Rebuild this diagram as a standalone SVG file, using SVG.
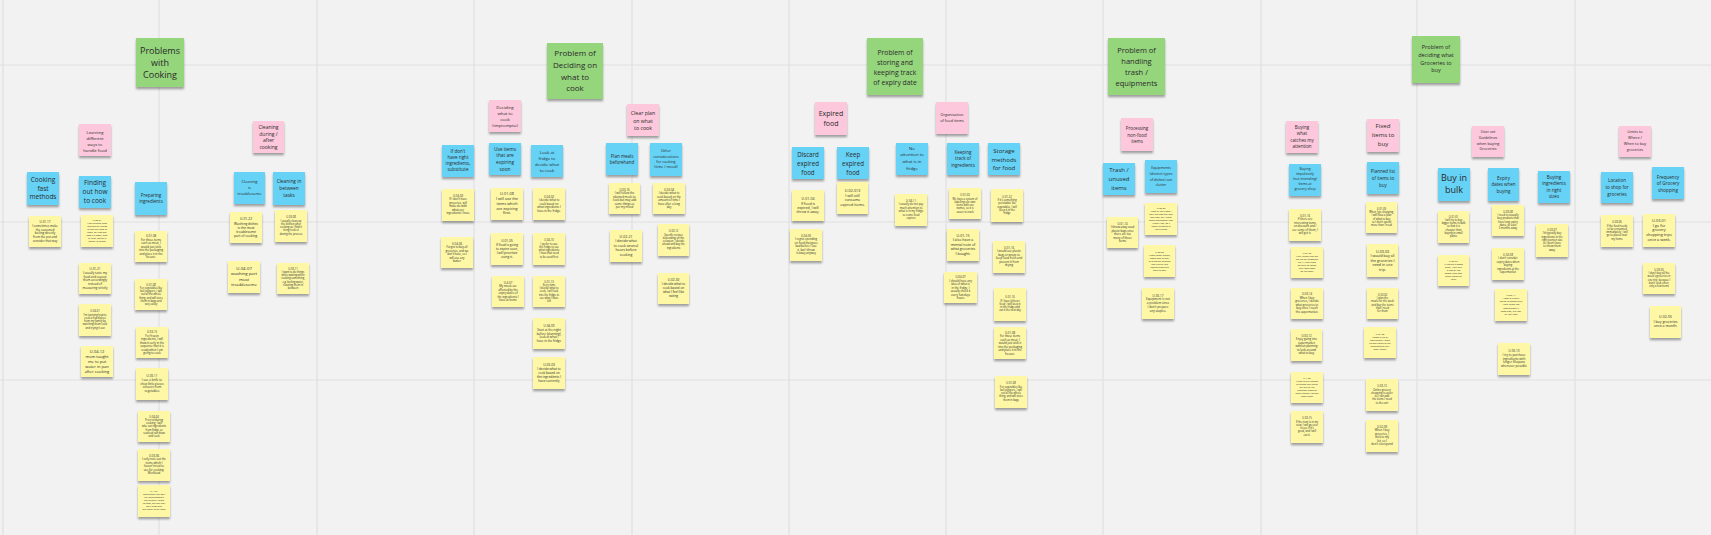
<svg xmlns="http://www.w3.org/2000/svg" width="1711" height="535" viewBox="0 0 1711 535">
<defs>
<filter id="sh" x="-20%" y="-20%" width="140%" height="150%"><feDropShadow dx="0" dy="2.2" stdDeviation="1.3" flood-color="#000" flood-opacity="0.35"/></filter>
</defs>
<style>
.n{filter:url(#sh)}
.y{fill:#fdf7a6}.b{fill:#66d2f6}.p{fill:#fdc8db}.g{fill:#95d57b}
.t{font-family:"Open Sans","Liberation Sans",sans-serif;fill:#2a2a2a;text-anchor:middle}
.gl{stroke:#e0e0e0;stroke-width:1.2}
</style>
<rect width="1711" height="535" fill="#f2f2f2"/>
<g id="grid">
<line class="gl" x1="3" y1="0" x2="3" y2="535"/><line class="gl" x1="159" y1="0" x2="159" y2="535"/><line class="gl" x1="317" y1="0" x2="317" y2="535"/><line class="gl" x1="474" y1="0" x2="474" y2="535"/><line class="gl" x1="632" y1="0" x2="632" y2="535"/><line class="gl" x1="789" y1="0" x2="789" y2="535"/><line class="gl" x1="946" y1="0" x2="946" y2="535"/><line class="gl" x1="1103" y1="0" x2="1103" y2="535"/><line class="gl" x1="1261" y1="0" x2="1261" y2="535"/><line class="gl" x1="1417" y1="0" x2="1417" y2="535"/><line class="gl" x1="1575" y1="0" x2="1575" y2="535"/>
<line class="gl" x1="0" y1="65" x2="1711" y2="65"/><line class="gl" x1="0" y1="222" x2="1711" y2="222"/><line class="gl" x1="0" y1="380" x2="1711" y2="380"/>
</g>

<!-- Headings -->
<g id="g1"><rect class="n g" x="136" y="38" width="48" height="49"/><text class="t" font-size="9" x="160" y="53.5"><tspan x="160">Problems</tspan><tspan x="160" dy="12">with</tspan><tspan x="160" dy="12">Cooking</tspan></text></g>
<g id="g2"><rect class="n g" x="547" y="43" width="56" height="56"/><text class="t" font-size="8" x="575" y="56"><tspan x="575">Problem of</tspan><tspan x="575" dy="11.8">Deciding on</tspan><tspan x="575" dy="11.8">what to</tspan><tspan x="575" dy="11.8">cook</tspan></text></g>
<g id="g3"><rect class="n g" x="867" y="38" width="56" height="57"/><text class="t" font-size="6.8" x="895" y="54.5"><tspan x="895">Problem of</tspan><tspan x="895" dy="10">storing and</tspan><tspan x="895" dy="10">keeping track</tspan><tspan x="895" dy="10">of expiry date</tspan></text></g>
<g id="g4"><rect class="n g" x="1108" y="38" width="57" height="57"/><text class="t" font-size="7.5" x="1136.5" y="52.7"><tspan x="1136.5">Problem of</tspan><tspan x="1136.5" dy="11">handling</tspan><tspan x="1136.5" dy="11">trash /</tspan><tspan x="1136.5" dy="11">equipments</tspan></text></g>
<g id="g5"><rect class="n g" x="1412" y="36" width="48" height="47"/><text class="t" font-size="5.5" x="1436" y="49"><tspan x="1436">Problem of</tspan><tspan x="1436" dy="7.8">deciding what</tspan><tspan x="1436" dy="7.8">Groceries to</tspan><tspan x="1436" dy="7.8">buy</tspan></text></g>

<!-- Pink -->
<g id="p1"><rect class="n p" x="79" y="124" width="32" height="32"/><text class="t" font-size="4.2" x="95" y="133.5"><tspan x="95">Learning</tspan><tspan x="95" dy="6">different</tspan><tspan x="95" dy="6">ways to</tspan><tspan x="95" dy="6">handle food</tspan></text></g>
<g id="p2"><rect class="n p" x="253" y="121" width="31" height="32"/><text class="t" font-size="5" x="268.5" y="128.8"><tspan x="268.5">Cleaning</tspan><tspan x="268.5" dy="6.7">during /</tspan><tspan x="268.5" dy="6.7">after</tspan><tspan x="268.5" dy="6.7">cooking</tspan></text></g>
<g id="p3"><rect class="n p" x="489" y="100" width="32" height="32"/><text class="t" font-size="4.3" x="505" y="108.5"><tspan x="505">Deciding</tspan><tspan x="505" dy="6.3">what to</tspan><tspan x="505" dy="6.3">cook</tspan><tspan x="505" dy="6.3">(impromptu)</tspan></text></g>
<g id="p4"><rect class="n p" x="627" y="104" width="32" height="32"/><text class="t" font-size="5.2" x="643" y="115"><tspan x="643">Clear plan</tspan><tspan x="643" dy="7.5">on what</tspan><tspan x="643" dy="7.5">to cook</tspan></text></g>
<g id="p5"><rect class="n p" x="815" y="102" width="32" height="33"/><text class="t" font-size="7" x="831" y="115.5"><tspan x="831">Expired</tspan><tspan x="831" dy="10">food</tspan></text></g>
<g id="p6"><rect class="n p" x="936" y="102" width="32" height="32"/><text class="t" font-size="3.8" x="952" y="116.3"><tspan x="952">Organisation</tspan><tspan x="952" dy="5.5">of food items</tspan></text></g>
<g id="p7"><rect class="n p" x="1121" y="118" width="32" height="33"/><text class="t" font-size="4.5" x="1137" y="129.7"><tspan x="1137">Processing</tspan><tspan x="1137" dy="6.8">non-food</tspan><tspan x="1137" dy="6.8">items</tspan></text></g>
<g id="p8"><rect class="n p" x="1286" y="121" width="32" height="32"/><text class="t" font-size="4.5" x="1302" y="128.5"><tspan x="1302">Buying</tspan><tspan x="1302" dy="6.5">what</tspan><tspan x="1302" dy="6.5">catches my</tspan><tspan x="1302" dy="6.5">attention</tspan></text></g>
<g id="p9"><rect class="n p" x="1367" y="119" width="32" height="33"/><text class="t" font-size="6" x="1383" y="128"><tspan x="1383">Fixed</tspan><tspan x="1383" dy="9">items to</tspan><tspan x="1383" dy="9">buy</tspan></text></g>
<g id="p10"><rect class="n p" x="1472" y="126" width="32" height="31"/><text class="t" font-size="3.8" x="1488" y="133.3"><tspan x="1488">User set</tspan><tspan x="1488" dy="5.7">Guidelines</tspan><tspan x="1488" dy="5.7">when buying</tspan><tspan x="1488" dy="5.7">Groceries</tspan></text></g>
<g id="p11"><rect class="n p" x="1619" y="126" width="32" height="31"/><text class="t" font-size="3.8" x="1635" y="133.3"><tspan x="1635">Limits to</tspan><tspan x="1635" dy="6">Where /</tspan><tspan x="1635" dy="6">When to buy</tspan><tspan x="1635" dy="6">groceries</tspan></text></g>

<!-- Blue -->
<g id="b1"><rect class="n b" x="27" y="172" width="32" height="33"/><text class="t" font-size="6.5" x="43" y="182.3"><tspan x="43">Cooking</tspan><tspan x="43" dy="8.5">fast</tspan><tspan x="43" dy="8.5">methods</tspan></text></g>
<g id="b2"><rect class="n b" x="79" y="176" width="32" height="32"/><text class="t" font-size="6.5" x="95" y="185.3"><tspan x="95">Finding</tspan><tspan x="95" dy="9">out how</tspan><tspan x="95" dy="9">to cook</tspan></text></g>
<g id="b3"><rect class="n b" x="135" y="182" width="32" height="33"/><text class="t" font-size="4.5" x="151" y="196.6"><tspan x="151">Preparing</tspan><tspan x="151" dy="6.5">ingredients</tspan></text></g>
<g id="b4"><rect class="n b" x="234" y="172" width="31" height="32"/><text class="t" font-size="4" x="249.5" y="183.4"><tspan x="249.5">Cleaning</tspan><tspan x="249.5" dy="6">is</tspan><tspan x="249.5" dy="6">troublesome</tspan></text></g>
<g id="b5"><rect class="n b" x="273" y="172" width="32" height="33"/><text class="t" font-size="4.8" x="289" y="182.8"><tspan x="289">Cleaning in</tspan><tspan x="289" dy="7">between</tspan><tspan x="289" dy="7">tasks</tspan></text></g>
<g id="b6"><rect class="n b" x="442" y="145" width="32" height="32"/><text class="t" font-size="4.5" x="458" y="152.5"><tspan x="458">If don't</tspan><tspan x="458" dy="6.3">have right</tspan><tspan x="458" dy="6.3">ingredients,</tspan><tspan x="458" dy="6.3">substitute</tspan></text></g>
<g id="b7"><rect class="n b" x="489" y="143" width="32" height="32"/><text class="t" font-size="4.8" x="505" y="150.7"><tspan x="505">Use items</tspan><tspan x="505" dy="6.7">that are</tspan><tspan x="505" dy="6.7">expiring</tspan><tspan x="505" dy="6.7">soon</tspan></text></g>
<g id="b8"><rect class="n b" x="531" y="145" width="32" height="32"/><text class="t" font-size="4.3" x="547" y="153.5"><tspan x="547">Look at</tspan><tspan x="547" dy="6.2">fridge to</tspan><tspan x="547" dy="6.2">decide what</tspan><tspan x="547" dy="6.2">to cook</tspan></text></g>
<g id="b9"><rect class="n b" x="606" y="143" width="32" height="32"/><text class="t" font-size="4.5" x="622" y="157.8"><tspan x="622">Plan meals</tspan><tspan x="622" dy="6.5">beforehand</tspan></text></g>
<g id="b10"><rect class="n b" x="650" y="143" width="32" height="33"/><text class="t" font-size="3.7" x="666" y="152.3"><tspan x="666">Other</tspan><tspan x="666" dy="5.3">considerations</tspan><tspan x="666" dy="5.3">for cooking</tspan><tspan x="666" dy="5.3">(time / mood)</tspan></text></g>
<g id="b11"><rect class="n b" x="792" y="147" width="32" height="32"/><text class="t" font-size="6.2" x="808" y="157.2"><tspan x="808">Discard</tspan><tspan x="808" dy="8.7">expired</tspan><tspan x="808" dy="8.7">food</tspan></text></g>
<g id="b12"><rect class="n b" x="837" y="147" width="32" height="32"/><text class="t" font-size="6.2" x="853" y="157.2"><tspan x="853">Keep</tspan><tspan x="853" dy="8.7">expired</tspan><tspan x="853" dy="8.7">food</tspan></text></g>
<g id="b13"><rect class="n b" x="896" y="143" width="32" height="32"/><text class="t" font-size="4.3" x="912" y="149.5"><tspan x="912">No</tspan><tspan x="912" dy="6.8">attention to</tspan><tspan x="912" dy="6.8">what is in</tspan><tspan x="912" dy="6.8">fridge</tspan></text></g>
<g id="b14"><rect class="n b" x="947" y="143" width="32" height="32"/><text class="t" font-size="4.5" x="963" y="153.5"><tspan x="963">Keeping</tspan><tspan x="963" dy="6.7">track of</tspan><tspan x="963" dy="6.7">ingredients</tspan></text></g>
<g id="b15"><rect class="n b" x="988" y="143" width="32" height="32"/><text class="t" font-size="6" x="1004" y="153.2"><tspan x="1004">Storage</tspan><tspan x="1004" dy="8.3">methods</tspan><tspan x="1004" dy="8.3">for food</tspan></text></g>
<g id="b16"><rect class="n b" x="1103" y="163" width="32" height="32"/><text class="t" font-size="6" x="1119" y="172.2"><tspan x="1119">Trash /</tspan><tspan x="1119" dy="8.8">unused</tspan><tspan x="1119" dy="8.8">items</tspan></text></g>
<g id="b17"><rect class="n b" x="1145" y="160" width="32" height="33"/><text class="t" font-size="3.5" x="1161" y="169.3"><tspan x="1161">Equipments</tspan><tspan x="1161" dy="5.7">(distinct types</tspan><tspan x="1161" dy="5.7">of dishes) can</tspan><tspan x="1161" dy="5.7">clutter</tspan></text></g>
<g id="b18"><rect class="n b" x="1289" y="164" width="32" height="32"/><text class="t" font-size="3.5" x="1305" y="170.2"><tspan x="1305">Buying</tspan><tspan x="1305" dy="5">impulsively</tspan><tspan x="1305" dy="5">(not intending)</tspan><tspan x="1305" dy="5">items at</tspan><tspan x="1305" dy="5">grocery shop</tspan></text></g>
<g id="b19"><rect class="n b" x="1367" y="162" width="32" height="32"/><text class="t" font-size="4.5" x="1383" y="172.6"><tspan x="1383">Planned list</tspan><tspan x="1383" dy="7">of items to</tspan><tspan x="1383" dy="7">buy</tspan></text></g>
<g id="b20"><rect class="n b" x="1438" y="168" width="32" height="33"/><text class="t" font-size="9" x="1454" y="181.3"><tspan x="1454">Buy in</tspan><tspan x="1454" dy="12">bulk</tspan></text></g>
<g id="b21"><rect class="n b" x="1488" y="168" width="31" height="33"/><text class="t" font-size="4.5" x="1503.5" y="179.6"><tspan x="1503.5">Expiry</tspan><tspan x="1503.5" dy="6.7">dates when</tspan><tspan x="1503.5" dy="6.7">buying</tspan></text></g>
<g id="b22"><rect class="n b" x="1538" y="171" width="32" height="32"/><text class="t" font-size="4.5" x="1554" y="178.6"><tspan x="1554">Buying</tspan><tspan x="1554" dy="6.5">ingredients</tspan><tspan x="1554" dy="6.5">in right</tspan><tspan x="1554" dy="6.5">sizes</tspan></text></g>
<g id="b23"><rect class="n b" x="1601" y="172" width="32" height="31"/><text class="t" font-size="4.5" x="1617" y="181.6"><tspan x="1617">Location</tspan><tspan x="1617" dy="7">to shop for</tspan><tspan x="1617" dy="7">groceries</tspan></text></g>
<g id="b24"><rect class="n b" x="1652" y="167" width="32" height="32"/><text class="t" font-size="4.6" x="1668" y="178.6"><tspan x="1668">Frequency</tspan><tspan x="1668" dy="6.7">of Grocery</tspan><tspan x="1668" dy="6.7">shopping</tspan></text></g>

<!-- Yellow: Problems with Cooking -->
<g id="y1"><rect class="n y" x="29" y="216" width="32" height="31"/><text class="t" font-size="3" x="45" y="223.2"><tspan x="45">U-01-17</tspan><tspan x="45" dy="1.25em">I sometimes make</tspan><tspan x="45" dy="1.25em">the seasoned</tspan><tspan x="45" dy="1.25em">boiling directly</tspan><tspan x="45" dy="1.25em">from the pot and</tspan><tspan x="45" dy="1.25em">consider that way</tspan></text></g>
<g id="y2"><rect class="n y" x="81" y="215" width="32" height="32"/><text class="t" font-size="2.4" x="97" y="220.8"><tspan x="97">U-03-01</tspan><tspan x="97" dy="1.25em">I use recipes from</tspan><tspan x="97" dy="1.25em">YouTube or TikTok</tspan><tspan x="97" dy="1.25em">to find out how to</tspan><tspan x="97" dy="1.25em">cook, as I can see</tspan><tspan x="97" dy="1.25em">how it's done, step</tspan><tspan x="97" dy="1.25em">by step, which is</tspan><tspan x="97" dy="1.25em">easier to follow</tspan></text></g>
<g id="y3"><rect class="n y" x="79" y="263" width="32" height="31"/><text class="t" font-size="3" x="95" y="270.2"><tspan x="95">U-01-21</tspan><tspan x="95" dy="1.25em">I usually taste my</tspan><tspan x="95" dy="1.25em">food and season</tspan><tspan x="95" dy="1.25em">them accordingly</tspan><tspan x="95" dy="1.25em">instead of</tspan><tspan x="95" dy="1.25em">measuring strictly</tspan></text></g>
<g id="y4"><rect class="n y" x="79" y="304" width="32" height="32"/><text class="t" font-size="2.6" x="95" y="312.3"><tspan x="95">U-04-01</tspan><tspan x="95" dy="1.25em">I'm learning how to</tspan><tspan x="95" dy="1.25em">cook a few dishes</tspan><tspan x="95" dy="1.25em">from my family by</tspan><tspan x="95" dy="1.25em">watching them cook</tspan><tspan x="95" dy="1.25em">and trying it out</tspan></text></g>
<g id="y5"><rect class="n y" x="81" y="346" width="32" height="31"/><text class="t" font-size="4" x="97" y="352.9"><tspan x="97">U-04-12</tspan><tspan x="97" dy="1.25em">mom taught</tspan><tspan x="97" dy="1.25em">me to put</tspan><tspan x="97" dy="1.25em">water in pan</tspan><tspan x="97" dy="1.25em">after cooking</tspan></text></g>
<g id="y6"><rect class="n y" x="135" y="231" width="32" height="31"/><text class="t" font-size="2.8" x="151" y="237"><tspan x="151">U-01-08</tspan><tspan x="151" dy="1.25em">For those items</tspan><tspan x="151" dy="1.25em">such as meat, I</tspan><tspan x="151" dy="1.25em">would just stick</tspan><tspan x="151" dy="1.25em">into the packaging</tspan><tspan x="151" dy="1.25em">and place it in the</tspan><tspan x="151" dy="1.25em">freezer.</tspan></text></g>
<g id="y7"><rect class="n y" x="135" y="279" width="32" height="31"/><text class="t" font-size="2.6" x="151" y="285.7"><tspan x="151">U-01-08</tspan><tspan x="151" dy="1.25em">For vegetables like</tspan><tspan x="151" dy="1.25em">bell peppers, I will</tspan><tspan x="151" dy="1.25em">cut all the whole</tspan><tspan x="151" dy="1.25em">thing, and will store</tspan><tspan x="151" dy="1.25em">them in bags and</tspan><tspan x="151" dy="1.25em">vary easily</tspan></text></g>
<g id="y8"><rect class="n y" x="136" y="327" width="32" height="31"/><text class="t" font-size="2.8" x="152" y="333"><tspan x="152">U-03-15</tspan><tspan x="152" dy="1.25em">For frozen</tspan><tspan x="152" dy="1.25em">ingredients, I will</tspan><tspan x="152" dy="1.25em">thaw it early in the</tspan><tspan x="152" dy="1.25em">sequence that it is</tspan><tspan x="152" dy="1.25em">ready when I am</tspan><tspan x="152" dy="1.25em">going to cook</tspan></text></g>
<g id="y9"><rect class="n y" x="136" y="368" width="32" height="32"/><text class="t" font-size="3" x="152" y="377"><tspan x="152">U-03-11</tspan><tspan x="152" dy="1.25em">I use a knife to</tspan><tspan x="152" dy="1.25em">chop little pieces</tspan><tspan x="152" dy="1.25em">scissors from</tspan><tspan x="152" dy="1.25em">vegetables</tspan></text></g>
<g id="y10"><rect class="n y" x="138" y="411" width="32" height="31"/><text class="t" font-size="2.6" x="154" y="417.7"><tspan x="154">U-04-04</tspan><tspan x="154" dy="1.25em">Prior to/during</tspan><tspan x="154" dy="1.25em">cooking, I will</tspan><tspan x="154" dy="1.25em">take out ingredients</tspan><tspan x="154" dy="1.25em">from fridge so</tspan><tspan x="154" dy="1.25em">seafood can thaw</tspan><tspan x="154" dy="1.25em">and cook</tspan></text></g>
<g id="y11"><rect class="n y" x="138" y="449" width="32" height="32"/><text class="t" font-size="2.8" x="154" y="456.7"><tspan x="154">U-03-06</tspan><tspan x="154" dy="1.25em">I only note out the</tspan><tspan x="154" dy="1.25em">items which I</tspan><tspan x="154" dy="1.25em">haven't tried to</tspan><tspan x="154" dy="1.25em">use for cooking.</tspan><tspan x="154" dy="1.25em">Workload</tspan></text></g>
<g id="y12"><rect class="n y" x="138" y="485" width="32" height="32"/><text class="t" font-size="2.4" x="154" y="492.3"><tspan x="154">U-4-01</tspan><tspan x="154" dy="1.25em">Ingredients are only</tspan><tspan x="154" dy="1.25em">cut and prepared</tspan><tspan x="154" dy="1.25em">just before I begin</tspan><tspan x="154" dy="1.25em">to cook, so that they</tspan><tspan x="154" dy="1.25em">stay fresh and</tspan><tspan x="154" dy="1.25em">are ready to be used</tspan></text></g>
<g id="y13"><rect class="n y" x="230" y="212" width="32" height="31"/><text class="t" font-size="3.3" x="246" y="220.4"><tspan x="246">U-01-22</tspan><tspan x="246" dy="1.25em">Washing dishes</tspan><tspan x="246" dy="1.25em">is the most</tspan><tspan x="246" dy="1.25em">troublesome</tspan><tspan x="246" dy="1.25em">part of cooking.</tspan></text></g>
<g id="y14"><rect class="n y" x="228" y="261" width="32" height="32"/><text class="t" font-size="4.3" x="244" y="269.9"><tspan x="244">U-04-07</tspan><tspan x="244" dy="1.25em">washing part</tspan><tspan x="244" dy="1.25em">most</tspan><tspan x="244" dy="1.25em">troublesome</tspan></text></g>
<g id="y15"><rect class="n y" x="275" y="210" width="32" height="32"/><text class="t" font-size="2.6" x="291" y="218.3"><tspan x="291">U-03-08</tspan><tspan x="291" dy="1.25em">I usually clean up</tspan><tspan x="291" dy="1.25em">the kitchen after</tspan><tspan x="291" dy="1.25em">cooking as I find it</tspan><tspan x="291" dy="1.25em">tiring to do it</tspan><tspan x="291" dy="1.25em">during the process</tspan></text></g>
<g id="y16"><rect class="n y" x="277" y="263" width="32" height="31"/><text class="t" font-size="2.6" x="293" y="269.7"><tspan x="293">U-03-11</tspan><tspan x="293" dy="1.25em">I want to do things</tspan><tspan x="293" dy="1.25em">while waiting when</tspan><tspan x="293" dy="1.25em">cooking something,</tspan><tspan x="293" dy="1.25em">e.g. boiling water,</tspan><tspan x="293" dy="1.25em">cleaning them in</tspan><tspan x="293" dy="1.25em">between</tspan></text></g>

<!-- Yellow: Deciding what to cook -->
<g id="y17"><rect class="n y" x="442" y="189" width="32" height="32"/><text class="t" font-size="2.8" x="458" y="196.7"><tspan x="458">U-04-03</tspan><tspan x="458" dy="1.25em">If I don't have</tspan><tspan x="458" dy="1.25em">groceries, will</tspan><tspan x="458" dy="1.25em">make do with</tspan><tspan x="458" dy="1.25em">whatever</tspan><tspan x="458" dy="1.25em">ingredients I have</tspan></text></g>
<g id="y18"><rect class="n y" x="441" y="237" width="32" height="31"/><text class="t" font-size="2.8" x="457" y="244.7"><tspan x="457">U-04-06</tspan><tspan x="457" dy="1.25em">Forgot to buy all</tspan><tspan x="457" dy="1.25em">groceries, and we</tspan><tspan x="457" dy="1.25em">don't have, so I</tspan><tspan x="457" dy="1.25em">will use any</tspan><tspan x="457" dy="1.25em">butter</tspan></text></g>
<g id="y19"><rect class="n y" x="491" y="188" width="32" height="32"/><text class="t" font-size="3.8" x="507" y="195.3"><tspan x="507">U-01-08</tspan><tspan x="507" dy="1.25em">I will use the</tspan><tspan x="507" dy="1.25em">items which</tspan><tspan x="507" dy="1.25em">are expiring</tspan><tspan x="507" dy="1.25em">first.</tspan></text></g>
<g id="y20"><rect class="n y" x="491" y="233" width="32" height="32"/><text class="t" font-size="3.2" x="507" y="241.6"><tspan x="507">U-01-05</tspan><tspan x="507" dy="1.25em">If food is going</tspan><tspan x="507" dy="1.25em">to expire soon,</tspan><tspan x="507" dy="1.25em">I will prioritize</tspan><tspan x="507" dy="1.25em">using it.</tspan></text></g>
<g id="y21"><rect class="n y" x="492" y="276" width="32" height="31"/><text class="t" font-size="2.8" x="508" y="283.7"><tspan x="508">U-4-07</tspan><tspan x="508" dy="1.25em">My meals are</tspan><tspan x="508" dy="1.25em">affected by the</tspan><tspan x="508" dy="1.25em">expiry dates of</tspan><tspan x="508" dy="1.25em">the ingredients I</tspan><tspan x="508" dy="1.25em">have at home</tspan></text></g>
<g id="y22"><rect class="n y" x="533" y="188" width="32" height="32"/><text class="t" font-size="2.8" x="549" y="197.5"><tspan x="549">U-04-02</tspan><tspan x="549" dy="1.25em">I decide what to</tspan><tspan x="549" dy="1.25em">cook based on</tspan><tspan x="549" dy="1.25em">what ingredients I</tspan><tspan x="549" dy="1.25em">have in the fridge.</tspan></text></g>
<g id="y23"><rect class="n y" x="533" y="233" width="32" height="32"/><text class="t" font-size="2.6" x="549" y="241.3"><tspan x="549">U-04-10</tspan><tspan x="549" dy="1.25em">I prefer to use</tspan><tspan x="549" dy="1.25em">the fridge to see</tspan><tspan x="549" dy="1.25em">what ingredients</tspan><tspan x="549" dy="1.25em">I have that need</tspan><tspan x="549" dy="1.25em">to be used first</tspan></text></g>
<g id="y24"><rect class="n y" x="533" y="276" width="32" height="31"/><text class="t" font-size="2.6" x="549" y="282.7"><tspan x="549">U-01-13</tspan><tspan x="549" dy="1.25em">Every time</tspan><tspan x="549" dy="1.25em">I decide what to</tspan><tspan x="549" dy="1.25em">cook, I will look</tspan><tspan x="549" dy="1.25em">into the fridge to</tspan><tspan x="549" dy="1.25em">see what I have</tspan><tspan x="549" dy="1.25em">left</tspan></text></g>
<g id="y25"><rect class="n y" x="533" y="318" width="32" height="31"/><text class="t" font-size="3" x="549" y="327"><tspan x="549">U-04-09</tspan><tspan x="549" dy="1.25em">Start at the night</tspan><tspan x="549" dy="1.25em">before (planning),</tspan><tspan x="549" dy="1.25em">look at what I</tspan><tspan x="549" dy="1.25em">have in the fridge</tspan></text></g>
<g id="y26"><rect class="n y" x="533" y="357" width="32" height="32"/><text class="t" font-size="3.2" x="549" y="365.6"><tspan x="549">U-03-03</tspan><tspan x="549" dy="1.25em">I decide what to</tspan><tspan x="549" dy="1.25em">cook based on</tspan><tspan x="549" dy="1.25em">the ingredients I</tspan><tspan x="549" dy="1.25em">have currently</tspan></text></g>
<g id="y27"><rect class="n y" x="609" y="183" width="31" height="31"/><text class="t" font-size="2.8" x="624.5" y="190.7"><tspan x="624.5">U-03-16</tspan><tspan x="624.5" dy="1.25em">I will follow the</tspan><tspan x="624.5" dy="1.25em">planned meals to</tspan><tspan x="624.5" dy="1.25em">cook but may add</tspan><tspan x="624.5" dy="1.25em">some things as</tspan><tspan x="624.5" dy="1.25em">per my mood</tspan></text></g>
<g id="y28"><rect class="n y" x="610" y="230" width="32" height="32"/><text class="t" font-size="3.5" x="626" y="238"><tspan x="626">U-02-21</tspan><tspan x="626" dy="1.25em">I decide what</tspan><tspan x="626" dy="1.25em">to cook several</tspan><tspan x="626" dy="1.25em">hours before</tspan><tspan x="626" dy="1.25em">cooking</tspan></text></g>
<g id="y29"><rect class="n y" x="653" y="183" width="32" height="31"/><text class="t" font-size="2.8" x="669" y="190.7"><tspan x="669">U-03-04</tspan><tspan x="669" dy="1.25em">I decide what to</tspan><tspan x="669" dy="1.25em">cook based on the</tspan><tspan x="669" dy="1.25em">amount of time I</tspan><tspan x="669" dy="1.25em">have after a long</tspan><tspan x="669" dy="1.25em">day</tspan></text></g>
<g id="y30"><rect class="n y" x="658" y="224" width="31" height="32"/><text class="t" font-size="2.6" x="673.5" y="232.3"><tspan x="673.5">U-03-12</tspan><tspan x="673.5" dy="1.25em">Specific recipes</tspan><tspan x="673.5" dy="1.25em">depending on the</tspan><tspan x="673.5" dy="1.25em">occasion, I decide</tspan><tspan x="673.5" dy="1.25em">ahead and buy the</tspan><tspan x="673.5" dy="1.25em">ingredients</tspan></text></g>
<g id="y31"><rect class="n y" x="658" y="273" width="31" height="31"/><text class="t" font-size="3.2" x="673.5" y="281.1"><tspan x="673.5">U-02-30</tspan><tspan x="673.5" dy="1.25em">I decide what to</tspan><tspan x="673.5" dy="1.25em">cook based on</tspan><tspan x="673.5" dy="1.25em">what I feel like</tspan><tspan x="673.5" dy="1.25em">eating</tspan></text></g>

<!-- Yellow: storing / expiry -->
<g id="y32"><rect class="n y" x="792" y="190" width="32" height="31"/><text class="t" font-size="3.5" x="808" y="200.2"><tspan x="808">U-01-04</tspan><tspan x="808" dy="1.25em">If food is</tspan><tspan x="808" dy="1.25em">expired, I will</tspan><tspan x="808" dy="1.25em">throw it away.</tspan></text></g>
<g id="y33"><rect class="n y" x="790" y="229" width="32" height="32"/><text class="t" font-size="2.8" x="806" y="236.7"><tspan x="806">U-04-05</tspan><tspan x="806" dy="1.25em">I regret spending</tspan><tspan x="806" dy="1.25em">on food that goes</tspan><tspan x="806" dy="1.25em">bad before I use</tspan><tspan x="806" dy="1.25em">it, but I throw</tspan><tspan x="806" dy="1.25em">it away anyway</tspan></text></g>
<g id="y34"><rect class="n y" x="837" y="182" width="31" height="32"/><text class="t" font-size="3.7" x="852.5" y="191.9"><tspan x="852.5">U-02-013</tspan><tspan x="852.5" dy="1.25em">I will still</tspan><tspan x="852.5" dy="1.25em">consume</tspan><tspan x="852.5" dy="1.25em">expired items.</tspan></text></g>
<g id="y35"><rect class="n y" x="895" y="194" width="32" height="32"/><text class="t" font-size="2.7" x="911" y="202"><tspan x="911">U-04-11</tspan><tspan x="911" dy="1.25em">I usually do not pay</tspan><tspan x="911" dy="1.25em">much attention to</tspan><tspan x="911" dy="1.25em">what is in my fridge</tspan><tspan x="911" dy="1.25em">so some food</tspan><tspan x="911" dy="1.25em">expires</tspan></text></g>
<g id="y36"><rect class="n y" x="949" y="188" width="32" height="31"/><text class="t" font-size="2.6" x="965" y="196.3"><tspan x="965">U-01-03</tspan><tspan x="965" dy="1.25em">We have a system of</tspan><tspan x="965" dy="1.25em">labelling our own</tspan><tspan x="965" dy="1.25em">items with our</tspan><tspan x="965" dy="1.25em">names, so it is</tspan><tspan x="965" dy="1.25em">easier to track</tspan></text></g>
<g id="y37"><rect class="n y" x="947" y="229" width="32" height="32"/><text class="t" font-size="3.6" x="963" y="236.8"><tspan x="963">U-01-15</tspan><tspan x="963" dy="1.25em">I also have a</tspan><tspan x="963" dy="1.25em">mental note of</tspan><tspan x="963" dy="1.25em">what groceries</tspan><tspan x="963" dy="1.25em">I bought.</tspan></text></g>
<g id="y38"><rect class="n y" x="944" y="272" width="33" height="31"/><text class="t" font-size="2.8" x="960.5" y="278"><tspan x="960.5">U-04-07</tspan><tspan x="960.5" dy="1.25em">I should have any</tspan><tspan x="960.5" dy="1.25em">idea of what is</tspan><tspan x="960.5" dy="1.25em">in the fridge, I</tspan><tspan x="960.5" dy="1.25em">usually check it</tspan><tspan x="960.5" dy="1.25em">every few days</tspan><tspan x="960.5" dy="1.25em">hours</tspan></text></g>
<g id="y39"><rect class="n y" x="991" y="189" width="32" height="33"/><text class="t" font-size="2.6" x="1007" y="197.8"><tspan x="1007">U-01-22</tspan><tspan x="1007" dy="1.25em">If it's something</tspan><tspan x="1007" dy="1.25em">perishable like</tspan><tspan x="1007" dy="1.25em">vegetables, I will</tspan><tspan x="1007" dy="1.25em">keep it in the</tspan><tspan x="1007" dy="1.25em">fridge</tspan></text></g>
<g id="y40"><rect class="n y" x="993" y="241" width="32" height="32"/><text class="t" font-size="2.8" x="1009" y="248.7"><tspan x="1009">U-01-16</tspan><tspan x="1009" dy="1.25em">I would use plastic</tspan><tspan x="1009" dy="1.25em">bags or wraps to</tspan><tspan x="1009" dy="1.25em">keep food fresh and</tspan><tspan x="1009" dy="1.25em">prevent it from</tspan><tspan x="1009" dy="1.25em">drying</tspan></text></g>
<g id="y41"><rect class="n y" x="994" y="288" width="32" height="33"/><text class="t" font-size="2.6" x="1010" y="298.4"><tspan x="1010">U-01-16</tspan><tspan x="1010" dy="1.25em">If I have leftover</tspan><tspan x="1010" dy="1.25em">food, I will keep it</tspan><tspan x="1010" dy="1.25em">in the fridge and</tspan><tspan x="1010" dy="1.25em">eat it the next day</tspan></text></g>
<g id="y42"><rect class="n y" x="994" y="327" width="32" height="32"/><text class="t" font-size="2.8" x="1010" y="333.5"><tspan x="1010">U-01-08</tspan><tspan x="1010" dy="1.25em">For those items</tspan><tspan x="1010" dy="1.25em">such as meat, I</tspan><tspan x="1010" dy="1.25em">would just stick it</tspan><tspan x="1010" dy="1.25em">into the packaging</tspan><tspan x="1010" dy="1.25em">and place it in the</tspan><tspan x="1010" dy="1.25em">freezer.</tspan></text></g>
<g id="y43"><rect class="n y" x="995" y="376" width="32" height="32"/><text class="t" font-size="2.6" x="1011" y="384.3"><tspan x="1011">U-01-08</tspan><tspan x="1011" dy="1.25em">For vegetables like</tspan><tspan x="1011" dy="1.25em">bell peppers, I will</tspan><tspan x="1011" dy="1.25em">cut all the whole</tspan><tspan x="1011" dy="1.25em">thing, and will store</tspan><tspan x="1011" dy="1.25em">them in bags</tspan></text></g>

<!-- Yellow: trash / equipments -->
<g id="y44"><rect class="n y" x="1107" y="217" width="31" height="31"/><text class="t" font-size="2.8" x="1122.5" y="224.7"><tspan x="1122.5">U-01-14</tspan><tspan x="1122.5" dy="1.25em">I throw away used</tspan><tspan x="1122.5" dy="1.25em">plastic bags once</tspan><tspan x="1122.5" dy="1.25em">there are too</tspan><tspan x="1122.5" dy="1.25em">many of these</tspan><tspan x="1122.5" dy="1.25em">items</tspan></text></g>
<g id="y45"><rect class="n y" x="1145" y="203" width="32" height="32"/><text class="t" font-size="2.4" x="1161" y="209.3"><tspan x="1161">U-03-07</tspan><tspan x="1161" dy="1.25em">Most of the times I</tspan><tspan x="1161" dy="1.25em">only use one pot and</tspan><tspan x="1161" dy="1.25em">one pan, but I have</tspan><tspan x="1161" dy="1.25em">more equipment that</tspan><tspan x="1161" dy="1.25em">I rarely use, so it</tspan><tspan x="1161" dy="1.25em">takes up space in</tspan><tspan x="1161" dy="1.25em">the kitchen</tspan></text></g>
<g id="y46"><rect class="n y" x="1144" y="245" width="31" height="32"/><text class="t" font-size="2.4" x="1159.5" y="252.8"><tspan x="1159.5">U-03-05</tspan><tspan x="1159.5" dy="1.25em">I have many plates,</tspan><tspan x="1159.5" dy="1.25em">bowls and cutlery</tspan><tspan x="1159.5" dy="1.25em">of different designs</tspan><tspan x="1159.5" dy="1.25em">that clutter the</tspan><tspan x="1159.5" dy="1.25em">cabinets and are</tspan><tspan x="1159.5" dy="1.25em">hard to sort</tspan></text></g>
<g id="y47"><rect class="n y" x="1142" y="288" width="32" height="31"/><text class="t" font-size="3" x="1158" y="296.5"><tspan x="1158">U-03-17</tspan><tspan x="1158" dy="1.25em">Equipment is not</tspan><tspan x="1158" dy="1.25em">a problem since</tspan><tspan x="1158" dy="1.25em">I don't prepare</tspan><tspan x="1158" dy="1.25em">any staples.</tspan></text></g>

<!-- Yellow: impulsive buying -->
<g id="y48"><rect class="n y" x="1289" y="209" width="32" height="32"/><text class="t" font-size="2.8" x="1305" y="216.7"><tspan x="1305">U-01-16</tspan><tspan x="1305" dy="1.25em">If there are</tspan><tspan x="1305" dy="1.25em">interesting items</tspan><tspan x="1305" dy="1.25em">on discount and I</tspan><tspan x="1305" dy="1.25em">see some of them, I</tspan><tspan x="1305" dy="1.25em">will get it.</tspan></text></g>
<g id="y49"><rect class="n y" x="1291" y="247" width="32" height="31"/><text class="t" font-size="2.4" x="1307" y="253.8"><tspan x="1307">U-04-06</tspan><tspan x="1307" dy="1.25em">I buy things that are</tspan><tspan x="1307" dy="1.25em">not on my shopping</tspan><tspan x="1307" dy="1.25em">list if I find them</tspan><tspan x="1307" dy="1.25em">on offer or when</tspan><tspan x="1307" dy="1.25em">they look good</tspan><tspan x="1307" dy="1.25em">on the shelf</tspan></text></g>
<g id="y50"><rect class="n y" x="1291" y="288" width="32" height="31"/><text class="t" font-size="2.8" x="1307" y="295.2"><tspan x="1307">U-03-14</tspan><tspan x="1307" dy="1.25em">When I buy</tspan><tspan x="1307" dy="1.25em">groceries, I decide</tspan><tspan x="1307" dy="1.25em">what groceries to</tspan><tspan x="1307" dy="1.25em">buy once I reach</tspan><tspan x="1307" dy="1.25em">the supermarket.</tspan></text></g>
<g id="y51"><rect class="n y" x="1291" y="329" width="31" height="32"/><text class="t" font-size="2.8" x="1306.5" y="336.7"><tspan x="1306.5">U-03-12</tspan><tspan x="1306.5" dy="1.25em">Enjoy going into</tspan><tspan x="1306.5" dy="1.25em">supermarket</tspan><tspan x="1306.5" dy="1.25em">without planning</tspan><tspan x="1306.5" dy="1.25em">to look around</tspan><tspan x="1306.5" dy="1.25em">what to buy</tspan></text></g>
<g id="y52"><rect class="n y" x="1291" y="372" width="32" height="31"/><text class="t" font-size="2.4" x="1307" y="378.8"><tspan x="1307">U-4-08</tspan><tspan x="1307" dy="1.25em">I tend to buy snacks</tspan><tspan x="1307" dy="1.25em">or drinks that catch</tspan><tspan x="1307" dy="1.25em">my eye at the</tspan><tspan x="1307" dy="1.25em">checkout counter</tspan><tspan x="1307" dy="1.25em">even though I do not</tspan><tspan x="1307" dy="1.25em">need them</tspan></text></g>
<g id="y53"><rect class="n y" x="1291" y="411" width="32" height="32"/><text class="t" font-size="2.6" x="1307" y="419.3"><tspan x="1307">U-03-15</tspan><tspan x="1307" dy="1.25em">If the item is in my</tspan><tspan x="1307" dy="1.25em">view, I will go over</tspan><tspan x="1307" dy="1.25em">to see if it's</tspan><tspan x="1307" dy="1.25em">good, and I will</tspan><tspan x="1307" dy="1.25em">eat it.</tspan></text></g>

<!-- Yellow: planned list -->
<g id="y54"><rect class="n y" x="1366" y="202" width="31" height="31"/><text class="t" font-size="2.6" x="1381.5" y="209.8"><tspan x="1381.5">U-01-05</tspan><tspan x="1381.5" dy="1.25em">When I go shopping,</tspan><tspan x="1381.5" dy="1.25em">I will have a plan</tspan><tspan x="1381.5" dy="1.25em">of what to buy</tspan><tspan x="1381.5" dy="1.25em">so I don't spend</tspan><tspan x="1381.5" dy="1.25em">more than I need</tspan></text></g>
<g id="y55"><rect class="n y" x="1367" y="244" width="31" height="33"/><text class="t" font-size="3.6" x="1382.5" y="252.8"><tspan x="1382.5">U-03-03</tspan><tspan x="1382.5" dy="1.25em">I would buy all</tspan><tspan x="1382.5" dy="1.25em">the groceries I</tspan><tspan x="1382.5" dy="1.25em">need in one</tspan><tspan x="1382.5" dy="1.25em">trip.</tspan></text></g>
<g id="y56"><rect class="n y" x="1367" y="288" width="31" height="31"/><text class="t" font-size="2.6" x="1382.5" y="295.8"><tspan x="1382.5">U-03-02</tspan><tspan x="1382.5" dy="1.25em">I plan the</tspan><tspan x="1382.5" dy="1.25em">meals for the week</tspan><tspan x="1382.5" dy="1.25em">and buy the items</tspan><tspan x="1382.5" dy="1.25em">that I need</tspan><tspan x="1382.5" dy="1.25em">for them</tspan></text></g>
<g id="y57"><rect class="n y" x="1364" y="327" width="32" height="31"/><text class="t" font-size="2.4" x="1380" y="335.3"><tspan x="1380">U-04-08</tspan><tspan x="1380" dy="1.25em">I make a list of</tspan><tspan x="1380" dy="1.25em">ingredients I need</tspan><tspan x="1380" dy="1.25em">before going to the</tspan><tspan x="1380" dy="1.25em">supermarket so I</tspan><tspan x="1380" dy="1.25em">don't forget</tspan></text></g>
<g id="y58"><rect class="n y" x="1366" y="379" width="32" height="32"/><text class="t" font-size="2.6" x="1382" y="387.3"><tspan x="1382">U-03-13</tspan><tspan x="1382" dy="1.25em">Online grocery</tspan><tspan x="1382" dy="1.25em">shopping is easier</tspan><tspan x="1382" dy="1.25em">as I can add</tspan><tspan x="1382" dy="1.25em">the items I need</tspan><tspan x="1382" dy="1.25em">to the cart</tspan></text></g>
<g id="y59"><rect class="n y" x="1366" y="420" width="32" height="32"/><text class="t" font-size="2.8" x="1382" y="427.7"><tspan x="1382">U-02-09</tspan><tspan x="1382" dy="1.25em">When I buy</tspan><tspan x="1382" dy="1.25em">groceries, I</tspan><tspan x="1382" dy="1.25em">stick to my</tspan><tspan x="1382" dy="1.25em">list, so I</tspan><tspan x="1382" dy="1.25em">don't overspend</tspan></text></g>

<!-- Yellow: buy in bulk / expiry / sizes -->
<g id="y60"><rect class="n y" x="1438" y="211" width="31" height="32"/><text class="t" font-size="2.6" x="1453.5" y="217.7"><tspan x="1453.5">U-01-01</tspan><tspan x="1453.5" dy="1.25em">I will try to buy</tspan><tspan x="1453.5" dy="1.25em">bigger items in bulk</tspan><tspan x="1453.5" dy="1.25em">so that it is</tspan><tspan x="1453.5" dy="1.25em">cheaper than</tspan><tspan x="1453.5" dy="1.25em">buying in small</tspan><tspan x="1453.5" dy="1.25em">packs</tspan></text></g>
<g id="y61"><rect class="n y" x="1438" y="255" width="31" height="31"/><text class="t" font-size="2.5" x="1453.5" y="261.5"><tspan x="1453.5">U-02-04</tspan><tspan x="1453.5" dy="1.25em">If there's a good</tspan><tspan x="1453.5" dy="1.25em">offer, I will buy</tspan><tspan x="1453.5" dy="1.25em">a few of the</tspan><tspan x="1453.5" dy="1.25em">same item and</tspan><tspan x="1453.5" dy="1.25em">keep them for</tspan><tspan x="1453.5" dy="1.25em">later</tspan></text></g>
<g id="y62"><rect class="n y" x="1492" y="205" width="32" height="31"/><text class="t" font-size="2.6" x="1508" y="212.8"><tspan x="1508">U-03-08</tspan><tspan x="1508" dy="1.25em">I need to casually</tspan><tspan x="1508" dy="1.25em">buy products that</tspan><tspan x="1508" dy="1.25em">have long expiry</tspan><tspan x="1508" dy="1.25em">dates, at least</tspan><tspan x="1508" dy="1.25em">3 months away</tspan></text></g>
<g id="y63"><rect class="n y" x="1492" y="248" width="32" height="32"/><text class="t" font-size="2.7" x="1508" y="256"><tspan x="1508">U-02-08</tspan><tspan x="1508" dy="1.25em">I don't consider</tspan><tspan x="1508" dy="1.25em">expiry dates when</tspan><tspan x="1508" dy="1.25em">buying</tspan><tspan x="1508" dy="1.25em">ingredients at the</tspan><tspan x="1508" dy="1.25em">supermarket</tspan></text></g>
<g id="y64"><rect class="n y" x="1495" y="289" width="32" height="32"/><text class="t" font-size="2.5" x="1511" y="296"><tspan x="1511">U-02-11</tspan><tspan x="1511" dy="1.25em">I look at expiry</tspan><tspan x="1511" dy="1.25em">dates to make sure</tspan><tspan x="1511" dy="1.25em">I can finish the</tspan><tspan x="1511" dy="1.25em">food before it</tspan><tspan x="1511" dy="1.25em">goes bad, but not</tspan><tspan x="1511" dy="1.25em">all the time</tspan></text></g>
<g id="y65"><rect class="n y" x="1498" y="343" width="32" height="32"/><text class="t" font-size="3" x="1514" y="352"><tspan x="1514">U-03-10</tspan><tspan x="1514" dy="1.25em">I try to purchase</tspan><tspan x="1514" dy="1.25em">ingredients with</tspan><tspan x="1514" dy="1.25em">longer lifespans</tspan><tspan x="1514" dy="1.25em">whenever possible</tspan></text></g>
<g id="y66"><rect class="n y" x="1536" y="224" width="32" height="33"/><text class="t" font-size="2.6" x="1552" y="231.2"><tspan x="1552">U-03-07</tspan><tspan x="1552" dy="1.25em">I'd typically buy</tspan><tspan x="1552" dy="1.25em">ingredients in the</tspan><tspan x="1552" dy="1.25em">right portion size</tspan><tspan x="1552" dy="1.25em">so I won't have</tspan><tspan x="1552" dy="1.25em">to throw them</tspan><tspan x="1552" dy="1.25em">away</tspan></text></g>

<!-- Yellow: location / frequency -->
<g id="y67"><rect class="n y" x="1601" y="215" width="32" height="32"/><text class="t" font-size="2.6" x="1617" y="223.3"><tspan x="1617">U-03-06</tspan><tspan x="1617" dy="1.25em">If the food needs</tspan><tspan x="1617" dy="1.25em">to be consumed</tspan><tspan x="1617" dy="1.25em">immediately, I will</tspan><tspan x="1617" dy="1.25em">go to places near</tspan><tspan x="1617" dy="1.25em">my home</tspan></text></g>
<g id="y68"><rect class="n y" x="1643" y="214" width="32" height="33"/><text class="t" font-size="3.8" x="1659" y="221.8"><tspan x="1659">U-03-01</tspan><tspan x="1659" dy="1.25em">I go for</tspan><tspan x="1659" dy="1.25em">grocery</tspan><tspan x="1659" dy="1.25em">shopping trips</tspan><tspan x="1659" dy="1.25em">once a week.</tspan></text></g>
<g id="y69"><rect class="n y" x="1643" y="263" width="32" height="31"/><text class="t" font-size="2.6" x="1659" y="270.8"><tspan x="1659">U-03-05</tspan><tspan x="1659" dy="1.25em">I don't buy all the</tspan><tspan x="1659" dy="1.25em">week's groceries in</tspan><tspan x="1659" dy="1.25em">one trip, because I</tspan><tspan x="1659" dy="1.25em">don't cook often,</tspan><tspan x="1659" dy="1.25em">only a few items</tspan></text></g>
<g id="y70"><rect class="n y" x="1650" y="306" width="31" height="32"/><text class="t" font-size="3.5" x="1665.5" y="318.4"><tspan x="1665.5">U-02-05</tspan><tspan x="1665.5" dy="1.25em">I buy groceries</tspan><tspan x="1665.5" dy="1.25em">once a month.</tspan></text></g>
</svg>
